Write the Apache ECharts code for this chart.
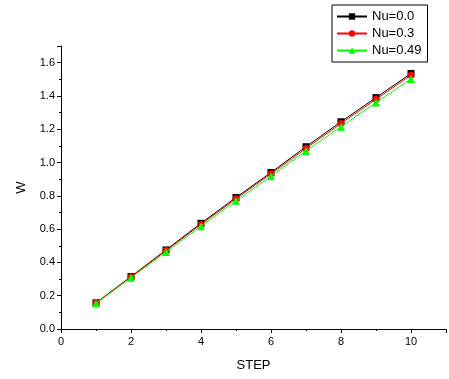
<!DOCTYPE html>
<html>
<head>
<meta charset="utf-8">
<script src="https://cdn.jsdelivr.net/npm/echarts@6/dist/echarts.min.js"></script>
<style>
  html, body { margin: 0; padding: 0; background: #fff; }
  #main { width: 449px; height: 379px; }
</style>
</head>
<body>
<div id="main"></div>
<script>
// steps along x
var steps = [1, 2, 3, 4, 5, 6, 7, 8, 9, 10];
// W values
var nu00 = [0.157, 0.315, 0.475, 0.635, 0.790, 0.940, 1.095, 1.245, 1.390, 1.535];
var nu03 = [0.156, 0.313, 0.471, 0.628, 0.783, 0.932, 1.085, 1.235, 1.380, 1.525];
var nu049 = [0.153, 0.308, 0.463, 0.617, 0.770, 0.918, 1.070, 1.215, 1.360, 1.502];
var seriesNames = ['Nu=0.0', 'Nu=0.3', 'Nu=0.49'];

function pairs(ys) {
    return steps.map(function (x, i) { return [x, ys[i]]; });
}

var myChart = echarts.init(document.getElementById('main'));

var font = 'Liberation Sans, Arial, sans-serif';

var option = {
    animation: false,
    textStyle: { fontFamily: font },
    grid: {
        left: 61,
        right: 3,
        top: 46,
        bottom: 50
    },
    legend: {
        data: seriesNames,
        orient: 'vertical',
        left: 332,
        top: 5,
        itemWidth: 30,
        itemHeight: 8,
        itemGap: 4,
        padding: [5, 6, 5, 4],
        borderColor: '#000',
        borderWidth: 1,
        textStyle: { fontSize: 13, color: '#000', fontFamily: font }
    },
    xAxis: {
        type: 'value',
        name: 'STEP',
        nameLocation: 'middle',
        nameGap: 30,
        nameTextStyle: { fontSize: 13, color: '#000' },
        min: 0,
        max: 11,
        interval: 2,
        axisLine: { lineStyle: { color: '#000', width: 1 } },
        axisTick: { inside: false, length: 4, lineStyle: { color: '#000' } },
        minorTick: { show: true, splitNumber: 2, length: 2, lineStyle: { color: '#000' } },
        axisLabel: { showMaxLabel: false, fontSize: 11, color: '#000', margin: 7 },
        splitLine: { show: false }
    },
    yAxis: {
        type: 'value',
        name: 'W',
        nameLocation: 'middle',
        nameGap: 33,
        nameTextStyle: { fontSize: 13, color: '#000' },
        min: 0,
        max: 1.7,
        interval: 0.2,
        axisLine: { show: true, lineStyle: { color: '#000', width: 1 } },
        axisTick: { show: true, inside: false, length: 4, lineStyle: { color: '#000' } },
        minorTick: { show: true, splitNumber: 2, length: 2, lineStyle: { color: '#000' } },
        axisLabel: {
            showMaxLabel: false,
            fontSize: 11,
            color: '#000',
            margin: 6,
            formatter: function (v) { return v.toFixed(1); }
        },
        splitLine: { show: false }
    },
    series: [
        {
            name: seriesNames[0],
            type: 'line',
            data: pairs(nu00),
            symbol: 'rect',
            symbolSize: 7,
            z: 2,
            itemStyle: { color: '#000' },
            lineStyle: { color: '#000', width: 1 }
        },
        {
            name: seriesNames[1],
            type: 'line',
            data: pairs(nu03),
            symbol: 'circle',
            symbolSize: 7,
            z: 3,
            itemStyle: { color: '#ff0000' },
            lineStyle: { color: '#ff0000', width: 1 }
        },
        {
            name: seriesNames[2],
            type: 'line',
            data: pairs(nu049),
            symbol: 'triangle',
            symbolSize: 8,
            z: 4,
            itemStyle: { color: '#00ff00' },
            lineStyle: { color: '#00ff00', width: 1 }
        }
    ]
};

option && myChart.setOption(option);
</script>
</body>
</html>
